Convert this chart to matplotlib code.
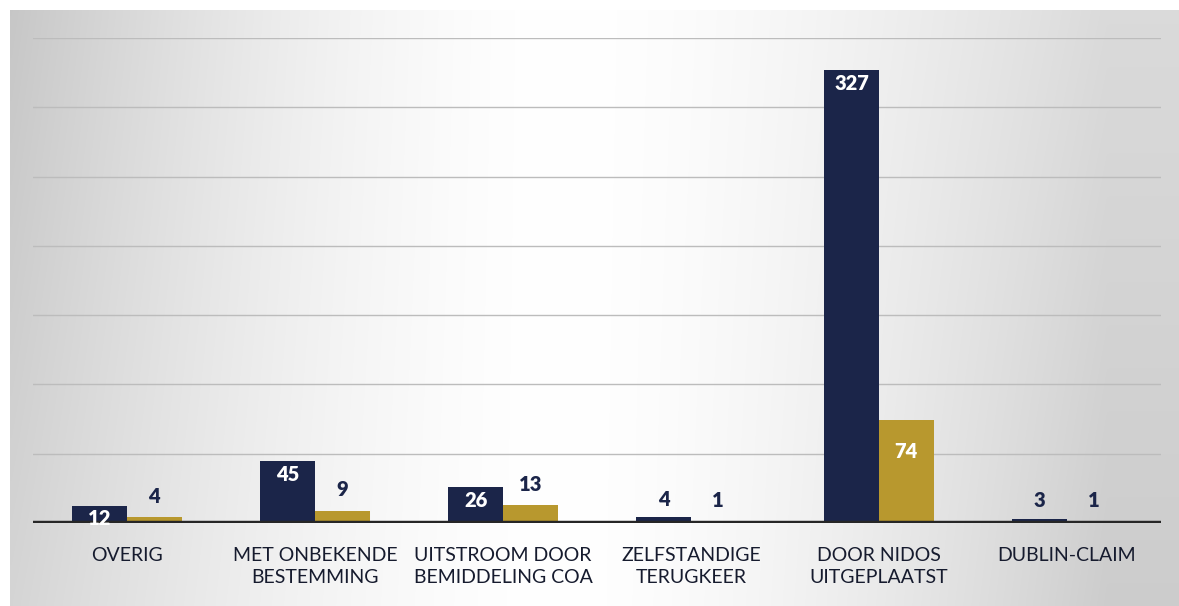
import numpy as np
import matplotlib.pyplot as plt

categories = ['OVERIG', 'MET ONBEKENDE\nBESTEMMING', 'UITSTROOM DOOR\nBEMIDDELING COA',
              'ZELFSTANDIGE\nTERUGKEER', 'DOOR NIDOS\nUITGEPLAATST', 'DUBLIN-CLAIM']
series_a = [12, 45, 26, 4, 327, 3]
series_b = [4, 9, 13, 1, 74, 1]

navy = '#1b2549'
gold = '#b8982e'

plt.rcParams['font.family'] = ['Lato', 'DejaVu Sans']

fig = plt.figure(figsize=(11.79, 6.06), dpi=100)
fig.patch.set_facecolor('white')

# scanned-page background: grey at the sides, white in the middle
bg = fig.add_axes([10/1179, 0, 1169/1179, 596/606])
xx, yy = np.meshgrid(np.linspace(0, 1, 300), np.linspace(0, 1, 150))
dist = np.clip(np.abs(xx - 0.47) / 0.47, 0, 1)
shade = 1 - 0.22 * dist**1.6 * (0.75 + 0.25 * yy)
shade = np.where(xx > 0.47, 1 - 0.18 * dist**1.6 * (1.1 - 0.3 * yy), shade)
img = np.dstack([shade, shade, shade])
bg.imshow(img, aspect='auto', extent=[0, 1, 0, 1], origin='lower', interpolation='bilinear')
bg.axis('off')

ax = fig.add_axes([33/1179, 83/606, 1128/1179, 485/606])
ax.patch.set_alpha(0)

x = np.arange(len(categories))
w = 0.29
bars_a = ax.bar(x - w/2, series_a, w, color=navy, zorder=3)
bars_b = ax.bar(x + w/2, series_b, w, color=gold, zorder=3)

ax.set_xlim(-0.5, len(categories) - 0.5)
ax.set_ylim(0, 350)
ax.set_yticks(np.arange(50, 351, 50))
ax.yaxis.grid(True, color='#bcbcbc', lw=1.0, zorder=1)
ax.axhline(0, color='#262626', lw=3.2, zorder=4)
for s in ax.spines.values():
    s.set_visible(False)
ax.tick_params(left=False, bottom=False, labelleft=False)
ax.set_xticks(x)
ax.set_xticklabels(categories, fontsize=14, color='#161b2e', linespacing=1.35)
ax.tick_params(axis='x', pad=14)

lab = dict(ha='center', va='center', fontsize=14.5, fontweight='heavy', zorder=5)
for bar, v in zip(bars_a, series_a):
    cx = bar.get_x() + bar.get_width() / 2
    if v >= 10:
        off = -9 if v < 20 else -10
        ax.annotate(str(v), (cx, v), xytext=(0, off), textcoords='offset points',
                    color='white', **lab)
    else:
        ax.annotate(str(v), (cx, v), xytext=(0, 13), textcoords='offset points',
                    color=navy, **lab)
for bar, v in zip(bars_b, series_b):
    cx = bar.get_x() + bar.get_width() / 2
    if v >= 50:
        ax.annotate(str(v), (cx, v), xytext=(0, -22), textcoords='offset points',
                    color='white', **lab)
    else:
        ax.annotate(str(v), (cx, v), xytext=(0, 15), textcoords='offset points',
                    color=navy, **lab)

fig.savefig('out.png', dpi=100)
